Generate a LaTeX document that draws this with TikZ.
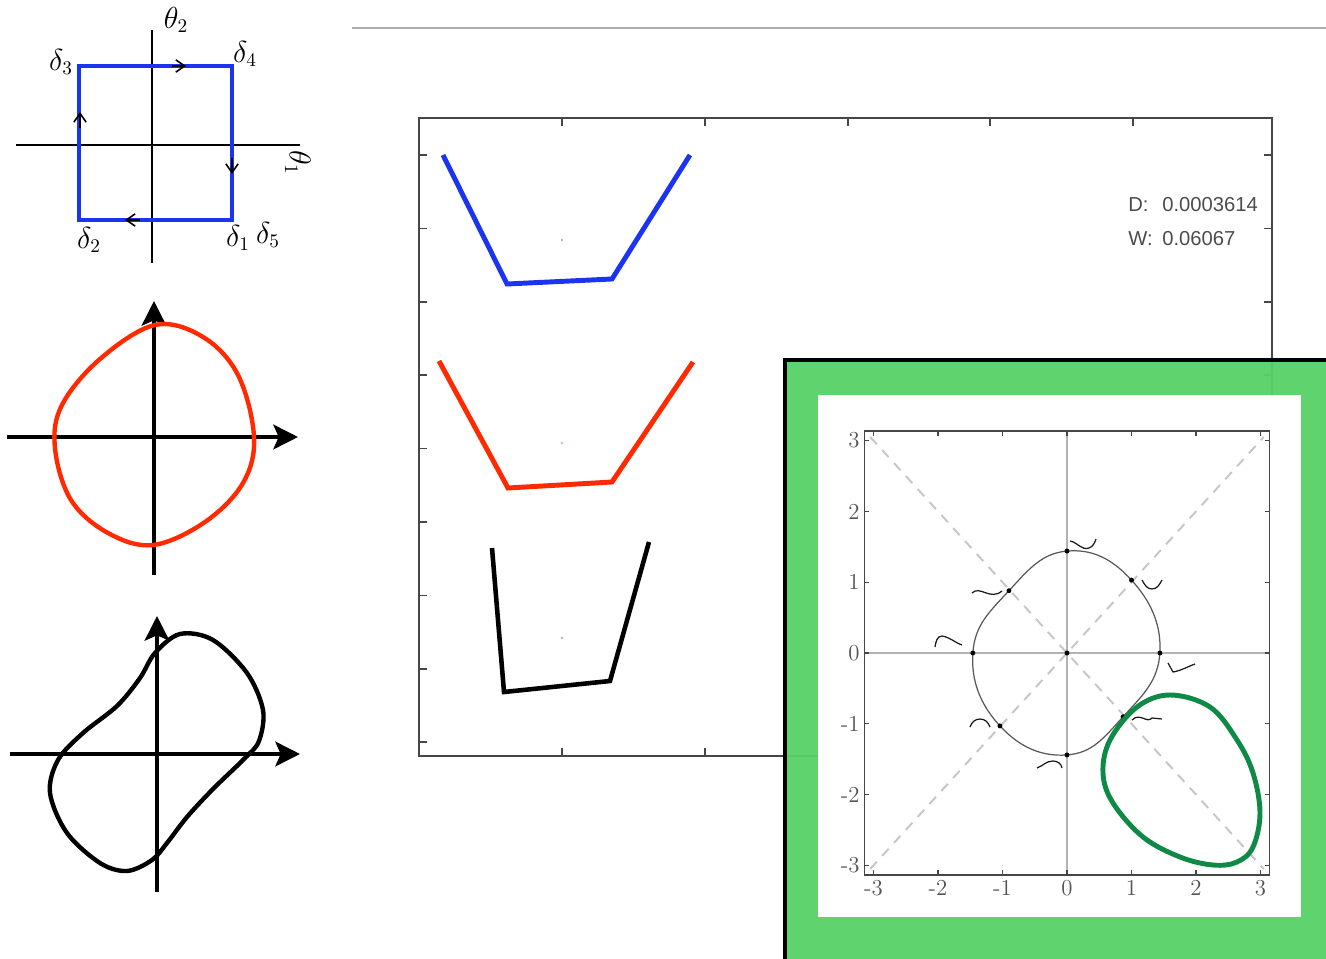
\documentclass[tikz,border=0pt]{standalone}
\usepackage{fontspec}
\newfontfamily\plotsans{Liberation Sans}
\usetikzlibrary{arrows.meta}
\definecolor{sketchblue}{RGB}{28,52,240}
\definecolor{loopred}{RGB}{255,42,0}
\definecolor{boxgreen}{RGB}{88,210,104}
\definecolor{loopgreen}{RGB}{14,138,70}
\tikzset{
  thinaxis/.style={line width=0.9pt},
  bigaxis/.style={line width=2.3pt,-{Stealth[length=14pt,width=14pt,inset=3pt]}},
  handarrow/.style={line width=0.9pt,-{Straight Barb[length=5pt,width=7pt]}},
  handlbl/.style={inner sep=0pt,font=\fontsize{16}{16}\selectfont},
  loopline/.style={line width=2.5pt},
  poly/.style={line width=2.8pt},
  frame/.style={draw=gray!55!black,line width=1.1pt},
  tk/.style={gray!55!black,line width=0.8pt},
  readout/.style={inner sep=0pt,anchor=base west,text=gray!60!black,font=\plotsans\fontsize{11.5}{11.5}\selectfont},
  numlbl/.style={inner sep=1.5pt,text=gray!65!black,font=\fontsize{13}{13}\selectfont},
  squiggle/.style={gray!20!black,line width=0.7pt},
  every node/.style={font=\small}
}

\begin{document}
\begin{tikzpicture}[x=0.02cm,y=-0.02cm,line cap=butt]
\useasboundingbox (0,0) rectangle (1326,959);

% path in the torus: blue square
\draw[thinaxis] (16,145) -- (300,145);
\draw[thinaxis] (152,30) -- (152,263);
\draw[sketchblue,line width=2.8pt] (79,66) rectangle (232,220);
\draw[handarrow] (172,66) -- (186,66);
\draw[handarrow] (80,128) -- (80,112);
\draw[handarrow] (232,158) -- (232,174);
\draw[handarrow] (140,220) -- (125,220);
\node[handlbl] (th2) at (176,20) {$\theta_2$};
\node[handlbl,rotate=-90] (th1) at (298,163) {$\theta_1$};
\node[handlbl] (d3) at (61,62) {$\delta_3$};
\node[handlbl] (d4) at (245,54) {$\delta_4$};
\node[handlbl] (d2) at (89,240) {$\delta_2$};
\node[handlbl] (d1) at (238,238) {$\delta_1$};
\node[handlbl] (d5) at (268,235) {$\delta_5$};

% red loop
\draw[bigaxis] (7,437) -- (298,437);
\draw[bigaxis] (154,575) -- (154,301);
\draw[loopred,loopline] plot[smooth cycle,tension=0.6] coordinates {
  (155,325) (203,337) (238,375) (254,437) (243,483) (205,522) (153,545)
  (108,533) (71,500) (55,448) (62,405) (100,359)};

% black loop
\draw[bigaxis] (10,754) -- (300,754);
\draw[bigaxis] (157,892) -- (157,616);
\draw[loopline] plot[smooth cycle,tension=0.55] coordinates {
  (155,653) (180,634) (213,640) (247,673) (263,710) (259,741) (245,758)
  (213,789) (187,817) (167,843) (152,860) (127,871) (100,863) (67,833)
  (50,793) (58,760) (83,733) (117,706) (140,678)};

% separator line
\draw[gray!65,line width=1.2pt] (352,28) -- (1326,28);

% shape plot
\draw[frame] (419,118) rectangle (1272,756);
\foreach \x in {562,705,848,990,1133} {
  \draw[tk] (\x,118) -- ++(0,8);
  \draw[tk] (\x,756) -- ++(0,-8);
}
\foreach \k in {0,...,8} {
  \draw[tk] (419,155+73.4*\k) -- ++(8,0);
  \draw[tk] (1272,155+73.4*\k) -- ++(-8,0);
}
\draw[sketchblue,poly] (443,155) -- (507,284) -- (612,279) -- (690,155);
\draw[loopred,poly] (439,361) -- (508,488) -- (612,482) -- (693,362);
\draw[poly,line width=2.6pt] (492,548) -- (504,692) -- (610,681) -- (649,542);
\fill[gray!60] (562,240) circle (0.8pt);
\fill[loopred!40] (562,443) circle (0.8pt);
\fill[gray!60] (562,638) circle (0.8pt);
\node[readout] (dkey) at (1128,212) {D:};
\node[readout] (dval) at (1162,212) {0.0003614};
\node[readout] (wkey) at (1128,246) {W:};
\node[readout] (wval) at (1162,246) {0.06067};

% green panel
\filldraw[fill=boxgreen,fill opacity=0.96,draw=black,line width=2.8pt] (785,360) rectangle (1345,975);
\fill[white] (818,395) rectangle (1301,917);

% hand marks next to the marked points
\draw[squiggle] (1070,541) to[out=-10,in=200] (1089,548) to[out=20,in=-110] (1096,539);
\draw[squiggle] (1142,580) to[out=-60,in=180] (1152,589) to[out=0,in=-120] (1162,580);
\draw[squiggle] (972,593) .. controls (980,585) and (990,601) .. (1002,591);
\draw[squiggle] (935,647) to[out=80,in=180] (942,636) to[out=-10,in=160] (962,645);
\draw[squiggle] (1168,663) -- (1173,672) to[out=10,in=200] (1195,664);
\draw[squiggle] (1132,720) .. controls (1140,712) and (1147,724) .. (1152,718) -- (1162,719);
\draw[squiggle] (970,727) to[out=70,in=180] (980,719) to[out=0,in=110] (990,727);
\draw[squiggle] (1037,768) to[out=20,in=180] (1053,761) to[out=0,in=100] (1062,768);

% configuration plot
\begin{scope}[shift={(1067,653)},x=1.29cm,y=1.416cm]
  \draw[gray!45,line width=1.1pt,dash pattern=on 5.5pt off 4.5pt] (-3.05,3.05) -- (3.05,-3.05);
  \draw[gray!45,line width=1.1pt,dash pattern=on 5.5pt off 4.5pt] (-3.05,-3.05) -- (3.05,3.05);
  \draw[gray!60,line width=0.9pt] (-3.14,0) -- (3.14,0);
  \draw[gray!60,line width=0.9pt] (0,-3.14) -- (0,3.14);
  \draw[frame] (-3.14,-3.14) rectangle (3.14,3.14);
  \foreach \i in {-3,...,3} {
    \draw[tk] (\i,-3.14) -- ++(0,0.07);
    \draw[tk] (\i,3.14) -- ++(0,-0.07);
    \draw[tk] (-3.14,\i) -- ++(0.07,0);
    \draw[tk] (3.14,\i) -- ++(-0.07,0);
    \node[numlbl,anchor=north] (bx\i) at (\i,-3.17) {\i};
    \node[numlbl,anchor=east] (ly\i) at (-3.17,\i) {\i};
  }
  \coordinate (pE) at (1.44,0);
  \coordinate (pNE) at (1.0,1.03);
  \coordinate (pN) at (0,1.44);
  \coordinate (pNW) at (-0.9,0.88);
  \coordinate (pW) at (-1.46,0);
  \coordinate (pSW) at (-1.04,-1.03);
  \coordinate (pS) at (0,-1.44);
  \coordinate (pSE) at (0.87,-0.9);
  \draw[gray!70!black,line width=0.7pt] plot[smooth cycle,tension=0.75] coordinates {
    (pE) (pNE) (pN) (pNW) (pW) (pSW) (pS) (pSE)};
  \foreach \p in {pE,pNE,pN,pNW,pW,pSW,pS,pSE} \fill (\p) circle (1.4pt);
  \fill (0,0) circle (1.4pt);
\end{scope}

% green loop
\draw[loopgreen,line width=2.8pt] plot[smooth cycle,tension=0.6] coordinates {
  (1170,695) (1210,707) (1237,740) (1253,773) (1260,813) (1253,847) (1237,862)
  (1213,865) (1180,857) (1143,837) (1113,803) (1103,773) (1110,740) (1137,707)};
\end{tikzpicture}
\end{document}
